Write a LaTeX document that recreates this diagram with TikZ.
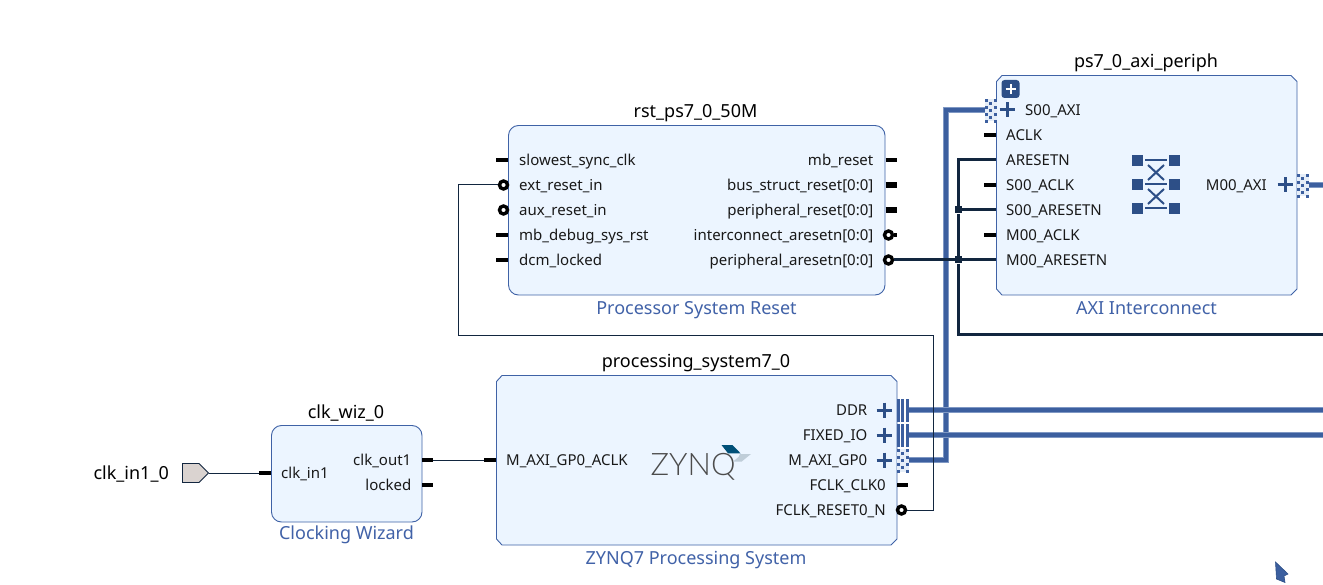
\documentclass[tikz,border=0pt]{standalone}
\usepackage{fontspec}
\setmainfont{Noto Sans}
\usetikzlibrary{calc}
\definecolor{blockfill}{HTML}{ECF5FF}
\definecolor{blockline}{HTML}{3F62A6}
\definecolor{typetext}{HTML}{4162A8}
\definecolor{wirenavy}{HTML}{12263F}
\definecolor{busblue}{HTML}{3C5F9F}
\definecolor{busedge}{HTML}{7F98C4}
\definecolor{iconblue}{HTML}{2D4F87}
\definecolor{portfill}{HTML}{DAD3D0}
\definecolor{pale}{HTML}{E6EEF8}
\definecolor{logodark}{HTML}{005078}
\definecolor{logolight}{HTML}{BFCDD8}
\tikzset{
 x=1pt,y=-1pt,
 roundblock/.style={draw=blockline,fill=blockfill,line width=.9pt,rounded corners=10pt},
 chamblock/.style={draw=blockline,fill=blockfill,line width=.9pt},
 title/.style={font=\fontsize{18}{20}\selectfont,text=black,inner sep=0pt,anchor=base},
 typelabel/.style={font=\fontsize{18}{20}\selectfont,text=typetext,inner sep=0pt,anchor=base},
 lbl/.style={font=\fontsize{15}{17}\selectfont,text=black!90,inner sep=0pt,anchor=base west},
 rbl/.style={font=\fontsize{15}{17}\selectfont,text=black!90,inner sep=0pt,anchor=base east},
 stub/.style={draw=black,line width=3.2pt},
 widestub/.style={draw=black,line width=5.6pt},
 thinwire/.style={draw=wirenavy,line width=1pt},
 netwire/.style={draw=wirenavy,line width=3pt},
 buswire/.style={draw=busblue,line width=3.8pt,preaction={draw=busedge,line width=5.4pt}},
 bubble/.style={circle,draw=black,fill=white,line width=3.4pt,minimum size=8pt,inner sep=0pt},
 junction/.style={rectangle,fill=wirenavy,minimum size=7pt,inner sep=0pt},
 plusmark/.style={draw=iconblue,line width=3pt},
 sq/.style={fill=iconblue,minimum size=11.5pt,inner sep=0pt,rectangle},
 xline/.style={draw=iconblue,line width=2pt},
}
\newcommand{\plusat}[2]{\draw[plusmark] (#1-7.5,#2) -- (#1+7.5,#2) (#1,#2-7.5) -- (#1,#2+7.5);}
\newcommand{\solidpin}[2]{%
 \fill[busblue] (#1,#2-11) rectangle (#1+2.6,#2+11.5);
 \fill[busblue] (#1+4,#2-11) rectangle (#1+7,#2+11.5);
 \fill[busblue] (#1+9,#2-11) rectangle (#1+12,#2+11.5);}
\newcommand{\dotpin}[2]{%
 \fill[pale] (#1,#2-11) rectangle (#1+12,#2+11.5);
 \foreach \k in {-11,-4,3,10}{
  \fill[busblue] (#1,#2+\k) rectangle (#1+2.6,#2+\k+2.6);
  \fill[busblue] (#1+9,#2+\k) rectangle (#1+12,#2+\k+2.6);}
 \foreach \k in {-8,-1,6}{
  \fill[busblue] (#1+4,#2+\k) rectangle (#1+7,#2+\k+2.6);}}
\begin{document}
\begin{tikzpicture}
\useasboundingbox[fill=white] (0,0) rectangle (1323,585);

% ---- blocks
\path[roundblock] (508.5,125.5) rectangle (885,295);
\path[chamblock] (1002,75.5) -- (1291,75.5) -- (1297,81.5) -- (1297,289) -- (1291,295) -- (1002,295) -- (996.5,289) -- (996.5,81.5) -- cycle;
\path[chamblock] (502,375.5) -- (891,375.5) -- (897,381.5) -- (897,539) -- (891,545) -- (502,545) -- (496.5,539) -- (496.5,381.5) -- cycle;
\path[roundblock] (271.5,425.5) rectangle (422,522);

% ---- titles and type labels
\node[title] (t1) at (695.5,117.7) {rst\_ps7\_0\_50M};
\node[title] (t2) at (1146,67.7) {ps7\_0\_axi\_periph};
\node[title] (t3) at (696,367.5) {processing\_system7\_0};
\node[title] (t4) at (346,418.5) {clk\_wiz\_0};
\node[typelabel] (y1) at (696.5,314.5) {Processor System Reset};
\node[typelabel] (y2) at (1146.5,314.5) {AXI Interconnect};
\node[typelabel] (y3) at (696,564.3) {ZYNQ7 Processing System};
\node[typelabel] (y4) at (346.5,539.3) {Clocking Wizard};

% ---- coordinates for pins and free ends
\coordinate (clkinS) at (259,473);
\coordinate (clkout) at (433,460);
\coordinate (aclkL) at (484,460);
\coordinate (gp0) at (908,460);
\coordinate (s00) at (985,110);
\coordinate (ddr) at (908,410);
\coordinate (fixed) at (908,435);
\coordinate (ddrR) at (1323,410);
\coordinate (fixedR) at (1323,435);
\coordinate (m00) at (1308,185);
\coordinate (m00R) at (1323,185);
\coordinate (netR) at (1323,335);
\coordinate (aresetnL) at (996,160);
\coordinate (s00resetL) at (996,210);
\coordinate (m00resetL) at (996,260);

% ---- buses
\draw[buswire] (gp0) -- (946,460) -- (946,110) -- (s00);
\draw[buswire] (ddr) -- (ddrR);
\draw[buswire] (fixed) -- (fixedR);
\draw[buswire] (m00) -- (m00R);
\solidpin{897}{410}
\solidpin{897}{435}
\dotpin{897}{460}
\dotpin{985}{110}
\dotpin{1297}{185}

% ---- plain stubs
\foreach \y in {160,235,260}{\draw[stub] (496,\y) -- (508,\y);}
\draw[stub] (885.5,160) -- (897,160);
\foreach \y in {185,210}{\draw[widestub] (885.5,\y) -- (897,\y);}
\foreach \y in {135,185,235}{\draw[stub] (984,\y) -- (996,\y);}
\draw[stub] (259,473) -- (271,473);
\draw[stub] (422,460) -- (433,460);
\draw[stub] (422,485) -- (433,485);
\draw[stub] (484,460) -- (496,460);
\draw[stub] (897,485) -- (908,485);

% ---- top-level port
\path[draw=wirenavy,fill=portfill,line width=.9pt] (182.5,463.5) -- (199,463.5) -- (208.5,473) -- (199,482.5) -- (182.5,482.5) -- cycle;
\coordinate (portR) at (208.5,473);
\node[inner sep=0pt,font=\fontsize{18}{20}\selectfont,anchor=base east] (portl) at (169,479.3) {clk\_in1\_0};

% ---- thin wires
\draw[thinwire] (portR) -- (clkinS);
\draw[thinwire] (clkout) -- (aclkL);
\node[bubble] (extreset) at (503.5,185) {};
\node[bubble] (auxreset) at (503.5,210) {};
\node[bubble] (fclkreset) at (901.5,510) {};
\draw[thinwire] (fclkreset.east) -- (933.5,510) -- (933.5,335.5) -- (458.5,335.5) -- (458.5,185) -- (extreset.west);

% ---- reset net
\node[bubble] (icaresetn) at (888.5,235) {};
\node[bubble] (paresetn) at (888.5,260) {};
\draw[stub] (icaresetn.east) -- (896.5,235);
\draw[netwire] (paresetn.east) -- (m00resetL);
\node[junction] (j1) at (958.5,260) {};
\node[junction] (j2) at (958.5,210) {};
\draw[netwire] (j1) -- (j2);
\draw[netwire] (j2) -- (958.5,160) -- (aresetnL);
\draw[netwire] (j2) -- (s00resetL);
\draw[netwire] (j1) -- (958.5,335) -- (netR);

% ---- pin labels, rst
\node[lbl] (a1) at (519,165.7) {slowest\_sync\_clk};
\node[lbl] (a2) at (519,190.7) {ext\_reset\_in};
\node[lbl] (a3) at (519,215.7) {aux\_reset\_in};
\node[lbl] (a4) at (519,240.7) {mb\_debug\_sys\_rst};
\node[lbl] (a5) at (519,265.7) {dcm\_locked};
\node[rbl] (b1) at (873.5,165.7) {mb\_reset};
\node[rbl] (b2) at (873.5,190.7) {bus\_struct\_reset[0:0]};
\node[rbl] (b3) at (873.5,215.7) {peripheral\_reset[0:0]};
\node[rbl] (b4) at (873.5,240.7) {interconnect\_aresetn[0:0]};
\node[rbl] (b5) at (873.5,265.7) {peripheral\_aresetn[0:0]};

% ---- pin labels, clock wizard
\node[lbl] (k1) at (281,478.7) {clk\_in1};
\node[rbl] (k2) at (411.5,465.7) {clk\_out1};
\node[rbl] (k3) at (411.5,490.7) {locked};

% ---- pin labels, interconnect
\node[lbl] (c0) at (1025,115.7) {S00\_AXI};
\node[lbl] (c1) at (1006,140.7) {ACLK};
\node[lbl] (c2) at (1006,165.7) {ARESETN};
\node[lbl] (c3) at (1006,190.7) {S00\_ACLK};
\node[lbl] (c4) at (1006,215.7) {S00\_ARESETN};
\node[lbl] (c5) at (1006,240.7) {M00\_ACLK};
\node[lbl] (c6) at (1006,265.7) {M00\_ARESETN};
\node[rbl] (c7) at (1267,190.7) {M00\_AXI};
\plusat{1007}{110}
\plusat{1285}{185}
\node[fill=iconblue,rounded corners=3pt,minimum size=18pt,inner sep=0pt] (badge) at (1010.5,89) {};
\draw[draw=white,line width=2pt] (1005.5,89) -- (1015.5,89) (1010.5,84) -- (1010.5,94);

% ---- crossbar icon
\foreach \y in {160.5,184.5,208.5}{
 \node[sq] at (1137.5,\y) {};
 \node[sq] at (1174.5,\y) {};
 \draw[xline] (1145,\y) -- (1167,\y);}
\draw[xline] (1148,165) -- (1164,180) (1164,165) -- (1148,180);
\draw[xline] (1148,189) -- (1164,204) (1164,189) -- (1148,204);

% ---- pin labels, zynq
\node[lbl] (d0) at (506,465.7) {M\_AXI\_GP0\_ACLK};
\node[rbl] (d1) at (867.5,415.7) {DDR};
\node[rbl] (d2) at (867.5,440.7) {FIXED\_IO};
\node[rbl] (d3) at (867.5,465.7) {M\_AXI\_GP0};
\node[rbl] (d4) at (886,490.7) {FCLK\_CLK0};
\node[rbl] (d5) at (886,515.7) {FCLK\_RESET0\_N};
\plusat{884}{410}
\plusat{884}{435}
\plusat{884}{460}

% ---- zynq logo
\node[inner sep=0pt,anchor=base west,text=black!70,font=\fontspec{Lato Light}\fontsize{31}{32}\selectfont] (zynq) at (650.5,475) {ZYNQ};
\fill[logodark] (721.5,445) -- (732.5,445) -- (740.5,453.3) -- (728,453.3) -- cycle;
\fill[logolight] (740,454) -- (751,454) -- (741.5,461.7) -- (733,461.7) -- (738.5,457) -- cycle;

% ---- pointer
\path[fill=busblue,draw=iconblue,line width=.6pt] (1275.5,562) -- (1288,574) -- (1284,576) -- (1285,582.5) -- (1276.5,579) -- cycle;
\end{tikzpicture}
\end{document}
